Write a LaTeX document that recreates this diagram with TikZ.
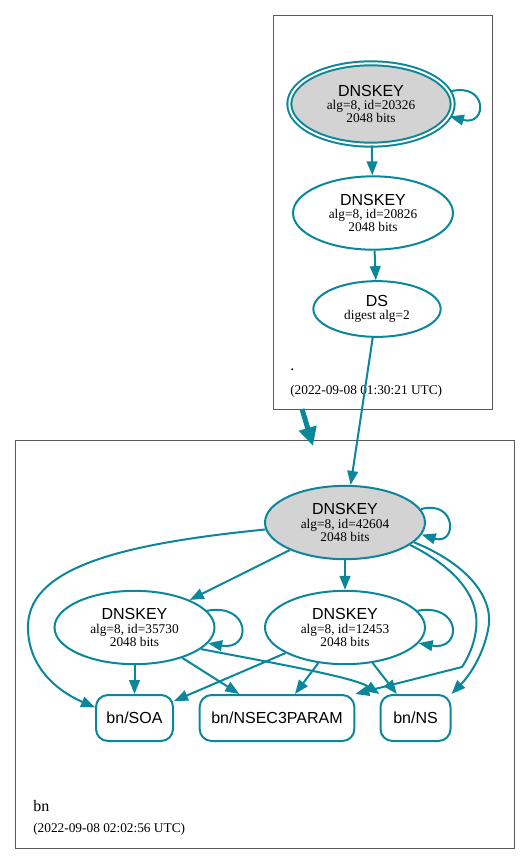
\documentclass[tikz,border=0pt]{standalone}
\usepackage{fontspec}
\setmainfont{Liberation Serif}
\newfontfamily\hv{Liberation Sans}
\usetikzlibrary{shapes.geometric,arrows.meta}
\definecolor{dnsteal}{HTML}{0A879A}
\definecolor{kskgray}{HTML}{D3D3D3}
\definecolor{boxgray}{HTML}{5A5A5A}

\begin{document}
\begin{tikzpicture}[x=0.75pt, y=-0.75pt,
    zone/.style = {shape=rectangle, draw=boxgray, line width=0.75pt},
    zonename/.style = {anchor=base west, inner sep=0pt, font=\fontsize{12}{14}\selectfont},
    zonedate/.style = {anchor=base west, inner sep=0pt, font=\fontsize{10}{12}\selectfont},
    dnskey/.style = {shape=ellipse, draw=dnsteal, line width=1.5pt, inner sep=0pt, align=center, minimum width=120pt, minimum height=55pt, font=\fontsize{10}{10}\selectfont},
    ksk/.style = {dnskey, fill=kskgray},
    trust/.style = {ksk, double, double distance=1.5pt, minimum width=122.5pt, minimum height=61pt},
    dsrec/.style = {dnskey, minimum width=95.5pt, minimum height=41.8pt},
    rrset/.style = {shape=rectangle, rounded corners=9pt, draw=dnsteal, line width=1.5pt, minimum height=34.5pt, font=\hv\fontsize{12}{14}\selectfont},
    signs/.style = {draw=dnsteal, line width=1.5pt, -{Triangle[length=10.5pt, width=8pt]}},
    deleg/.style = {draw=dnsteal, line width=3.75pt, -{Triangle[length=14pt, width=13pt]}}]
    \useasboundingbox (0,0) rectangle (531,865);
    \node[zone, minimum width=164.25pt, minimum height=295.5pt] (rootzone) at (382.5,212) {};
    \node[zone, minimum width=374.25pt, minimum height=306pt] (bnzone) at (264.5,644) {};
    \node[zonename] (rootname) at (290,370) {.};
    \node[zonedate] (rootdate) at (290,394) {(2022-09-08 01:30:21 UTC)};
    \node[zonename] (bnname) at (33,811) {bn};
    \node[zonedate] (bndate) at (33,832) {(2022-09-08 02:02:56 UTC)};

    \node[trust] (rootksk) at (371,104) {{\hv\fontsize{12}{12}\selectfont DNSKEY}\\alg=8, id=20326\\2048 bits};
    \node[dnskey] (rootzsk) at (373,213) {{\hv\fontsize{12}{12}\selectfont DNSKEY}\\alg=8, id=20826\\2048 bits};
    \node[dsrec] (rootds) at (377,309) {{\hv\fontsize{12}{12}\selectfont DS}\\digest alg=2};
    \node[ksk] (bnksk) at (345,522.5) {{\hv\fontsize{12}{12}\selectfont DNSKEY}\\alg=8, id=42604\\2048 bits};
    \node[dnskey] (bnzska) at (134.5,627.5) {{\hv\fontsize{12}{12}\selectfont DNSKEY}\\alg=8, id=35730\\2048 bits};
    \node[dnskey] (bnzskb) at (345,627.5) {{\hv\fontsize{12}{12}\selectfont DNSKEY}\\alg=8, id=12453\\2048 bits};
    \node[rrset, minimum width=57.75pt] (soa) at (134.5,718) {bn/SOA};
    \node[rrset, minimum width=116pt] (nsec3param) at (277,718) {bn/NSEC3PARAM};
    \node[rrset, minimum width=52.5pt] (ns) at (415.5,718) {bn/NS};

    \coordinate (delegtail) at (302,409);
    \coordinate (deleghead) at (313,446);
    \draw[deleg] (delegtail) -- (deleghead);

    \draw[signs] (rootksk.9) .. controls +(38,-10) and +(38,10) .. (rootksk.-9);
    \draw[signs] (rootksk) -- (rootzsk);
    \draw[signs] (rootzsk) -- (rootds);
    \draw[signs] (rootds) -- (bnksk);

    \draw[signs] (bnksk.10) .. controls +(36,-10) and +(36,11) .. (bnksk.-9);
    \draw[signs] (bnksk) -- (bnzska);
    \draw[signs] (bnksk) -- (bnzskb);
    \draw[signs] (bnksk.185) .. controls (130,543) and (30,565) .. (28,625) .. controls (27,665) and (55,690) .. (soa.165);
    \draw[signs] (bnksk.-19) .. controls (460,570) and (480,600) .. (476,630) .. controls (474,645) and (468,658) .. (462,667) -- (nsec3param.north east);
    \draw[signs] (bnksk.-16) .. controls (470,565) and (495,600) .. (488,630) .. controls (483,655) and (470,675) .. (ns.north east);

    \draw[signs] (bnzska.13) .. controls +(44,-8) and +(44,8) .. (bnzska.-12);
    \draw[signs] (bnzska) -- (soa);
    \draw[signs] (bnzska) -- (nsec3param);
    \draw[signs] (bnzska.-18) .. controls (290,666) and (355,678) .. (ns.north west);

    \draw[signs] (bnzskb.13) .. controls +(44,-8) and +(44,8) .. (bnzskb.-12);
    \draw[signs] (bnzskb) -- (soa);
    \draw[signs] (bnzskb) -- (nsec3param);
    \draw[signs] (bnzskb) -- (ns);
\end{tikzpicture}
\end{document}
